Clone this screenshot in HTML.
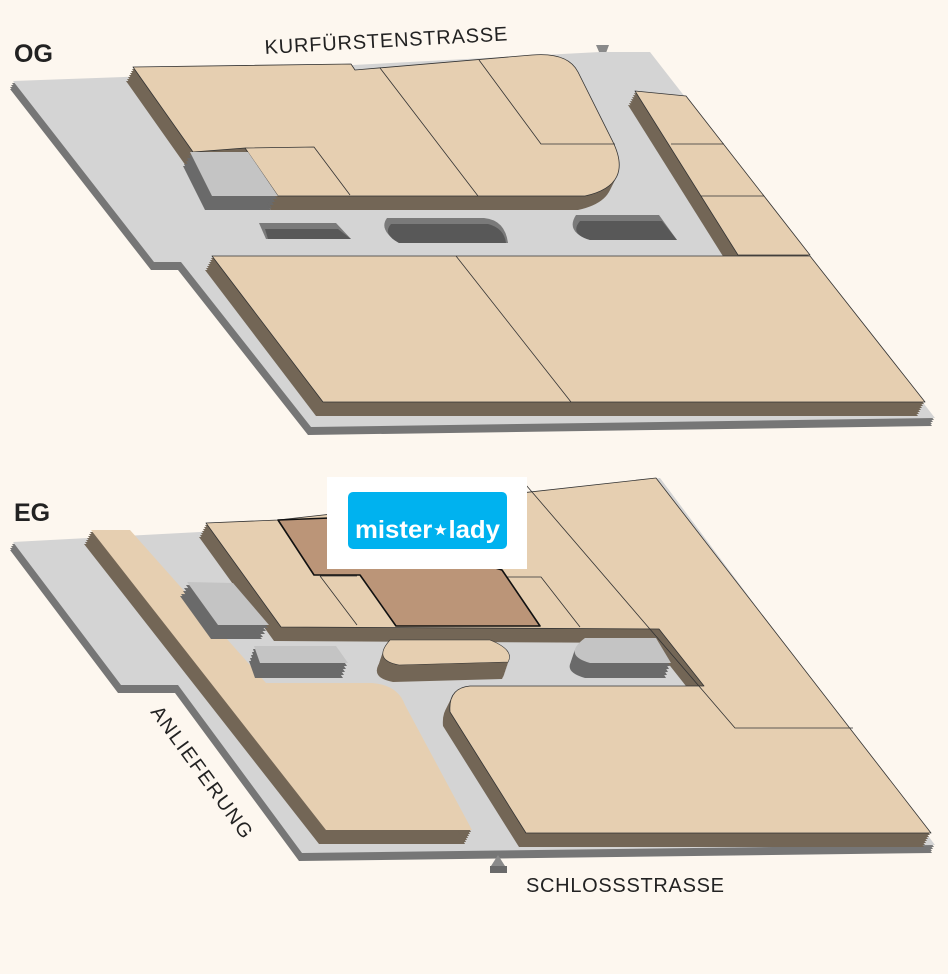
<!DOCTYPE html>
<html><head><meta charset="utf-8"><style>
html,body{margin:0;padding:0;background:#fdf7ef;}
svg{display:block;}
text{font-family:"Liberation Sans",sans-serif;fill:#222;}
</style></head><body>
<svg width="948" height="974" viewBox="0 0 948 974" xmlns="http://www.w3.org/2000/svg" xmlns:xlink="http://www.w3.org/1999/xlink">
<defs>
<polygon id="ogbase" points="13,81 124,77 600,52 650,52 935,418 311,427 181,262 154,262"/>
<path id="b1" d="M133,67 L351,64 L355,70 L532,55 Q568,52 578,72 L612,140 Q635,185 585,196 L278,196 L245,148 L193,152 Z"/>
<polygon id="gbox1" points="190,152 248,152 278,196 212,196"/>
<polygon id="b2" points="635,91 686,96 810,255 738,255"/>
<polygon id="b3" points="212,256 810,256 925,402 323,402"/>
<polygon id="egbase" points="13,542 200,532 660,478 935,845 302,853 178,685 121,685"/>
<path id="sl" d="M91,530 L130,530 L266,683 L372,683 Q398,685 405,705 L472,830 L326,830 Z"/>
<path id="tb" d="M206,523 L278,520 L656,478 L931,833 L526,833 L450,712 Q448,688 470,686 L704,686 L659,629 L281,627 Z"/>
<polygon id="ga" points="187,582 233,583 269,625 218,625"/>
<polygon id="gb" points="254,646 336,646 348,663 260,663"/>
<path id="isl" d="M390,640 L490,640 Q515,650 508,662 L399,665 Q372,660 390,640 Z"/>
<path id="gc" d="M585,638 L656,638 L671,663 L590,663 Q562,655 585,638 Z"/>
<g id="ex14"><use xlink:href="#__"/></g>
</defs>
<g stroke-linejoin="round">
<!-- ===== OG ===== -->
<text x="14" y="62" font-size="25" font-weight="bold">OG</text>
<text x="265" y="54" font-size="20" transform="rotate(-3.2 265 54)" textLength="243">KURFÜRSTENSTRASSE</text>
<polygon points="596,45 609,45 603,61" fill="#8a8a8a"/>
<g fill="#767676"><use xlink:href="#ogbase" x="-1" y="2"/><use xlink:href="#ogbase" x="-2" y="4"/><use xlink:href="#ogbase" x="-3" y="6"/><use xlink:href="#ogbase" x="-3" y="8"/></g>
<use xlink:href="#ogbase" fill="#d4d4d4"/>
<g fill="#736656"><use xlink:href="#b1" x="-1" y="2"/><use xlink:href="#b1" x="-2" y="4"/><use xlink:href="#b1" x="-3" y="6"/><use xlink:href="#b1" x="-4" y="8"/><use xlink:href="#b1" x="-5" y="10"/><use xlink:href="#b1" x="-6" y="12"/><use xlink:href="#b1" x="-7" y="14"/></g>
<use xlink:href="#b1" fill="#e6cfb1" stroke="#333" stroke-width="0.8"/>
<path d="M245,148 L314,147 L350,195 M380,68 L478,196 M479,60 L541,144 L615,144" fill="none" stroke="#333" stroke-width="0.8"/>
<g fill="#6a6a6a"><use xlink:href="#gbox1" x="-1" y="3"/><use xlink:href="#gbox1" x="-3" y="6"/><use xlink:href="#gbox1" x="-4" y="9"/><use xlink:href="#gbox1" x="-6" y="12"/><use xlink:href="#gbox1" x="-7" y="14"/></g>
<use xlink:href="#gbox1" fill="#c4c4c4"/>
<polygon points="259,223 336,223 351,239 266,239" fill="#7a7a7a"/>
<polygon points="265,229 338,229 351,239 268,239" fill="#585858"/>
<path d="M387,218 L484,218 Q505,220 508,243 L399,243 Q378,230 387,218 Z" fill="#7a7a7a"/>
<path d="M391,224 L488,224 Q504,228 506,243 L399,243 Q382,234 391,224 Z" fill="#585858"/>
<path d="M576,215 L659,215 L677,240 L590,240 Q565,232 576,215 Z" fill="#7a7a7a"/>
<path d="M580,221 L662,221 L677,240 L590,240 Q569,234 580,221 Z" fill="#585858"/>
<g fill="#736656"><use xlink:href="#b2" x="-1" y="2"/><use xlink:href="#b2" x="-2" y="4"/><use xlink:href="#b2" x="-3" y="6"/><use xlink:href="#b2" x="-4" y="8"/><use xlink:href="#b2" x="-5" y="10"/><use xlink:href="#b2" x="-6" y="12"/><use xlink:href="#b2" x="-7" y="14"/></g>
<use xlink:href="#b2" fill="#e6cfb1" stroke="#333" stroke-width="0.8"/>
<path d="M671,144 L724,144 M701,196 L764,196" stroke="#333" stroke-width="0.8"/>
<g fill="#736656"><use xlink:href="#b3" x="-1" y="2"/><use xlink:href="#b3" x="-2" y="4"/><use xlink:href="#b3" x="-3" y="6"/><use xlink:href="#b3" x="-4" y="8"/><use xlink:href="#b3" x="-5" y="10"/><use xlink:href="#b3" x="-6" y="12"/><use xlink:href="#b3" x="-7" y="14"/></g>
<use xlink:href="#b3" fill="#e6cfb1" stroke="#333" stroke-width="0.8"/>
<path d="M456,256 L571,402" stroke="#333" stroke-width="0.8"/>

<!-- ===== EG ===== -->
<text x="14" y="521" font-size="25" font-weight="bold">EG</text>
<g fill="#767676"><use xlink:href="#egbase" x="-1" y="2"/><use xlink:href="#egbase" x="-2" y="4"/><use xlink:href="#egbase" x="-3" y="6"/><use xlink:href="#egbase" x="-3" y="8"/></g>
<use xlink:href="#egbase" fill="#d4d4d4"/>
<g fill="#736656"><use xlink:href="#sl" x="-1" y="2"/><use xlink:href="#sl" x="-2" y="4"/><use xlink:href="#sl" x="-3" y="6"/><use xlink:href="#sl" x="-4" y="8"/><use xlink:href="#sl" x="-5" y="10"/><use xlink:href="#sl" x="-6" y="12"/><use xlink:href="#sl" x="-7" y="14"/></g>
<use xlink:href="#sl" fill="#e6cfb1"/>
<g fill="#736656"><use xlink:href="#tb" x="-1" y="2"/><use xlink:href="#tb" x="-2" y="4"/><use xlink:href="#tb" x="-3" y="6"/><use xlink:href="#tb" x="-4" y="8"/><use xlink:href="#tb" x="-5" y="10"/><use xlink:href="#tb" x="-6" y="12"/><use xlink:href="#tb" x="-7" y="14"/></g>
<use xlink:href="#tb" fill="#e6cfb1" stroke="#333" stroke-width="0.8"/>
<path d="M526,485 L735,728 L853,728 M505,577 L541,577 L580,627 M320,576 L357,576 M320,576 L357,625" fill="none" stroke="#333" stroke-width="0.8"/>
<polygon points="278,520 330,518 502,570 540,626 396,626 360,575 314,575" fill="#bb9578" stroke="#111" stroke-width="1.6"/>
<g fill="#6a6a6a"><use xlink:href="#ga" x="-1" y="3"/><use xlink:href="#ga" x="-3" y="6"/><use xlink:href="#ga" x="-4" y="9"/><use xlink:href="#ga" x="-6" y="12"/><use xlink:href="#ga" x="-7" y="14"/></g>
<use xlink:href="#ga" fill="#c4c4c4"/>
<g fill="#6a6a6a"><use xlink:href="#gb" x="-1" y="3"/><use xlink:href="#gb" x="-2" y="6"/><use xlink:href="#gb" x="-3" y="9"/><use xlink:href="#gb" x="-4" y="12"/><use xlink:href="#gb" x="-5" y="15"/></g>
<use xlink:href="#gb" fill="#c4c4c4"/>
<g fill="#736656"><use xlink:href="#isl" x="-1" y="3"/><use xlink:href="#isl" x="-2" y="6"/><use xlink:href="#isl" x="-3" y="9"/><use xlink:href="#isl" x="-4" y="12"/><use xlink:href="#isl" x="-5" y="15"/><use xlink:href="#isl" x="-6" y="17"/></g>
<use xlink:href="#isl" fill="#e6cfb1" stroke="#333" stroke-width="0.6"/>
<g fill="#6a6a6a"><use xlink:href="#gc" x="-1" y="3"/><use xlink:href="#gc" x="-2" y="6"/><use xlink:href="#gc" x="-3" y="9"/><use xlink:href="#gc" x="-4" y="12"/><use xlink:href="#gc" x="-5" y="15"/></g>
<use xlink:href="#gc" fill="#c4c4c4"/>
<rect x="327" y="477" width="200" height="92" fill="#ffffff"/>
<rect x="348" y="492" width="159" height="57" rx="5" fill="#00b2ef"/>
<text x="427.5" y="538" font-size="25" font-weight="bold" text-anchor="middle" style="fill:#fff" textLength="145" lengthAdjust="spacingAndGlyphs">mister⋆lady</text>
<polygon points="491,866 505,866 498,855" fill="#8a8a8a"/>
<rect x="490" y="866" width="17" height="7" fill="#6a6a6a"/>
<text x="526" y="892" font-size="20" textLength="198">SCHLOSSSTRASSE</text>
<text x="150" y="712" font-size="20" transform="rotate(54 150 712)" textLength="158">ANLIEFERUNG</text>
</g>
</svg>
</body></html>
